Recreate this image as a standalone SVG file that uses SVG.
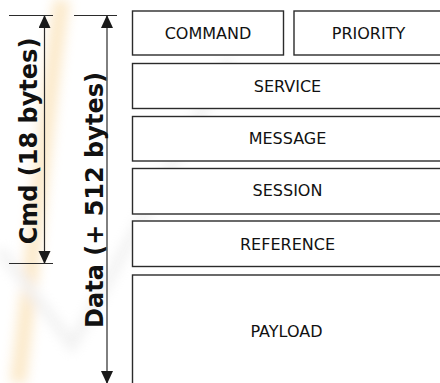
<svg xmlns="http://www.w3.org/2000/svg" width="440" height="383" viewBox="0 0 440 383">
  <style>
    .field { fill: #ffffff; stroke: #2b2b2b; stroke-width: 1.4; }
    .label { font-family: "DejaVu Sans", Verdana, sans-serif; font-size: 16px; fill: #111111; text-anchor: middle; }
    .size { font-family: "DejaVu Sans", Verdana, sans-serif; font-size: 24px; font-weight: bold; fill: #111111; text-anchor: middle; }
    .dim { stroke: #2b2b2b; stroke-width: 1.2; fill: none; }
  </style>
  <defs>
    <marker id="head" markerUnits="userSpaceOnUse" markerWidth="12" markerHeight="14" viewBox="0 0 12 14" refX="12" refY="6" orient="auto-start-reverse">
      <path d="M0,0 L13,6 L0,12 Z" fill="#1a1a1a"/>
    </marker>
    <filter id="soft" x="-20%" y="-20%" width="140%" height="140%">
      <feGaussianBlur stdDeviation="6"/>
    </filter>
  </defs>

  <rect width="440" height="383" fill="#ffffff"/>

  <!-- faint background mark -->
  <g id="backdrop" opacity="0.35" filter="url(#soft)">
    <path d="M62,0 C48,90 40,200 18,383" stroke="#f5c26b" stroke-width="16" fill="none"/>
    <path d="M0,250 L72,345 L230,60" stroke="#d8d8d8" stroke-width="10" fill="none"/>
  </g>

  <!-- packet fields -->
  <g id="command">
    <rect class="field" x="132.5" y="11" width="151" height="44"/>
    <text class="label" x="208" y="38.5">COMMAND</text>
  </g>
  <g id="priority">
    <rect class="field" x="294" y="11" width="160" height="44"/>
    <text class="label" x="368.5" y="38.5">PRIORITY</text>
  </g>
  <g id="service">
    <rect class="field" x="132.5" y="63.5" width="320" height="45"/>
    <text class="label" x="287.5" y="91.5">SERVICE</text>
  </g>
  <g id="message">
    <rect class="field" x="132.5" y="116.5" width="320" height="44.5"/>
    <text class="label" x="287.5" y="144">MESSAGE</text>
  </g>
  <g id="session">
    <rect class="field" x="132.5" y="168.5" width="320" height="45.5"/>
    <text class="label" x="287.5" y="196">SESSION</text>
  </g>
  <g id="reference">
    <rect class="field" x="132.5" y="221" width="320" height="45.5"/>
    <text class="label" x="287.5" y="250">REFERENCE</text>
  </g>
  <g id="payload">
    <rect class="field" x="132.5" y="275" width="320" height="130"/>
    <text class="label" x="286.5" y="336.5">PAYLOAD</text>
  </g>

  <!-- size dimensions -->
  <g id="connectors">
    <line class="dim" x1="9" y1="15.5" x2="53" y2="15.5"/>
    <line class="dim" x1="9" y1="263.5" x2="53" y2="263.5"/>
    <line class="dim" x1="44.5" y1="16" x2="44.5" y2="263" marker-start="url(#head)" marker-end="url(#head)"/>
    <line class="dim" x1="74" y1="15.5" x2="117" y2="15.5"/>
    <line class="dim" x1="107" y1="16" x2="107" y2="383" marker-start="url(#head)" marker-end="url(#head)"/>
  </g>

  <g id="cmd-size">
    <text class="size" transform="translate(37,141) rotate(-90)">Cmd (18 bytes)</text>
  </g>
  <g id="data-size">
    <text class="size" transform="translate(103,200) rotate(-90)">Data (+ 512 bytes)</text>
  </g>
</svg>
